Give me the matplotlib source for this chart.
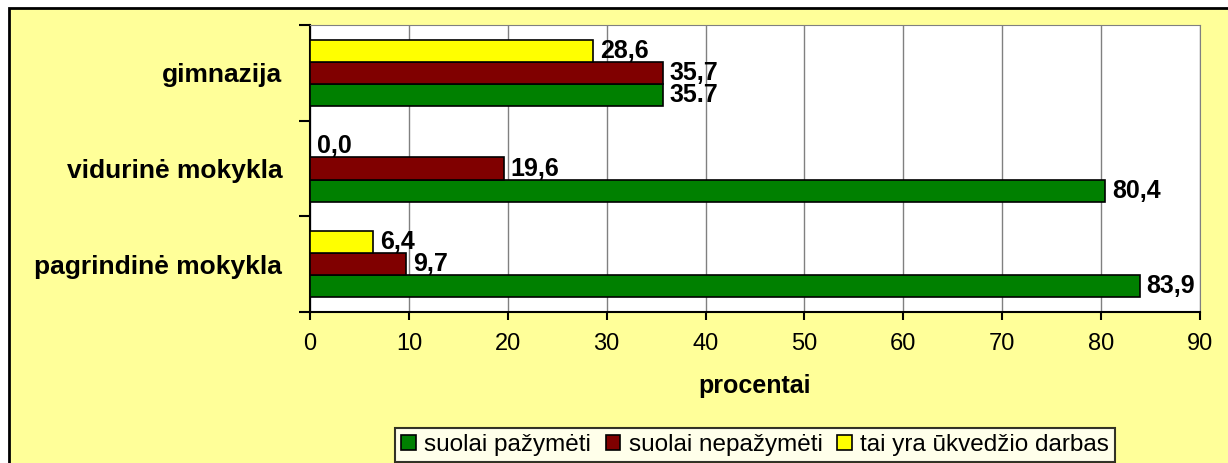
import matplotlib.pyplot as plt
from matplotlib.patches import Rectangle

plt.rcParams['font.family'] = ['Liberation Sans', 'DejaVu Sans']

# data
categories = ['pagrindinė mokykla', 'vidurinė mokykla', 'gimnazija']
series_names = ['suolai pažymėti', 'suolai nepažymėti', 'tai yra ūkvedžio darbas']
pazymeti = [83.9, 80.4, 35.7]
nepazymeti = [9.7, 19.6, 35.7]
ukvedzio = [6.4, 0.0, 28.6]
pazymeti_labels = ['83,9', '80,4', '35.7']
nepazymeti_labels = ['9,7', '19,6', '35,7']
ukvedzio_labels = ['6,4', '0,0', '28,6']
x_ticks = list(range(0, 91, 10))

colors = ['#008000', '#800000', '#FFFF00']

fig = plt.figure(figsize=(12.28, 4.63), dpi=100, facecolor='white')
# yellow chart area with black border (clipped at right / bottom)
fig.patches.append(Rectangle((9 / 1228, -0.05), 1.1, 1 - 8 / 463 + 0.05,
                             transform=fig.transFigure, facecolor='#FFFF99',
                             edgecolor='black', linewidth=2, zorder=-10))

ax = fig.add_axes([310 / 1228, 1 - 312 / 463, 890 / 1228, 287 / 463])
ax.set_facecolor('white')

h = 0.23
pos = list(range(len(categories)))
all_series = [(pazymeti, pazymeti_labels, -h), (nepazymeti, nepazymeti_labels, 0), (ukvedzio, ukvedzio_labels, h)]
for (vals, labs, off), col, name in zip(all_series, colors, series_names):
    bars = ax.barh([p + off for p in pos], vals, height=h, color=col,
                   edgecolor='black', linewidth=1.2, label=name, zorder=3)
    for b, lab in zip(bars, labs):
        ax.annotate(lab, (b.get_width(), b.get_y() + b.get_height() / 2),
                    xytext=(5, 0), textcoords='offset points', va='center',
                    ha='left', fontsize=18, fontweight='bold', zorder=4)

ax.set_xlim(0, 90)
ax.set_ylim(-0.5, 2.5)
ax.set_xticks(x_ticks)
ax.tick_params(axis='x', labelsize=17, length=6, width=1.5, direction='out', pad=9)
ax.set_yticks([-0.5, 0.5, 1.5, 2.5])
ax.set_yticklabels([])
ax.set_yticks(pos, minor=True)
ax.set_yticklabels(categories, minor=True, fontsize=19, fontweight='bold')
ax.tick_params(axis='y', which='minor', length=0, pad=20)
ax.tick_params(axis='y', which='major', length=8, width=1.5, direction='out')

ax.grid(axis='x', color='#808080', linewidth=1, zorder=0)
ax.set_axisbelow(True)
for s in ['top', 'right']:
    ax.spines[s].set_color('#808080')
for s in ['left', 'bottom']:
    ax.spines[s].set_linewidth(1.5)
    ax.spines[s].set_color('black')

ax.set_xlabel('procentai', fontsize=18, fontweight='bold', labelpad=14)

leg = ax.legend(loc='upper center', bbox_to_anchor=(0.5, -0.405), ncol=3,
                fontsize=17.5, frameon=True, fancybox=False, edgecolor='black',
                handlelength=0.6, handleheight=0.6, handletextpad=0.35,
                columnspacing=0.6, borderpad=0.25, borderaxespad=0)
leg.get_frame().set_linewidth(1.5)
leg.get_frame().set_facecolor('white')

fig.savefig('out.png', dpi=100, facecolor=fig.get_facecolor())
